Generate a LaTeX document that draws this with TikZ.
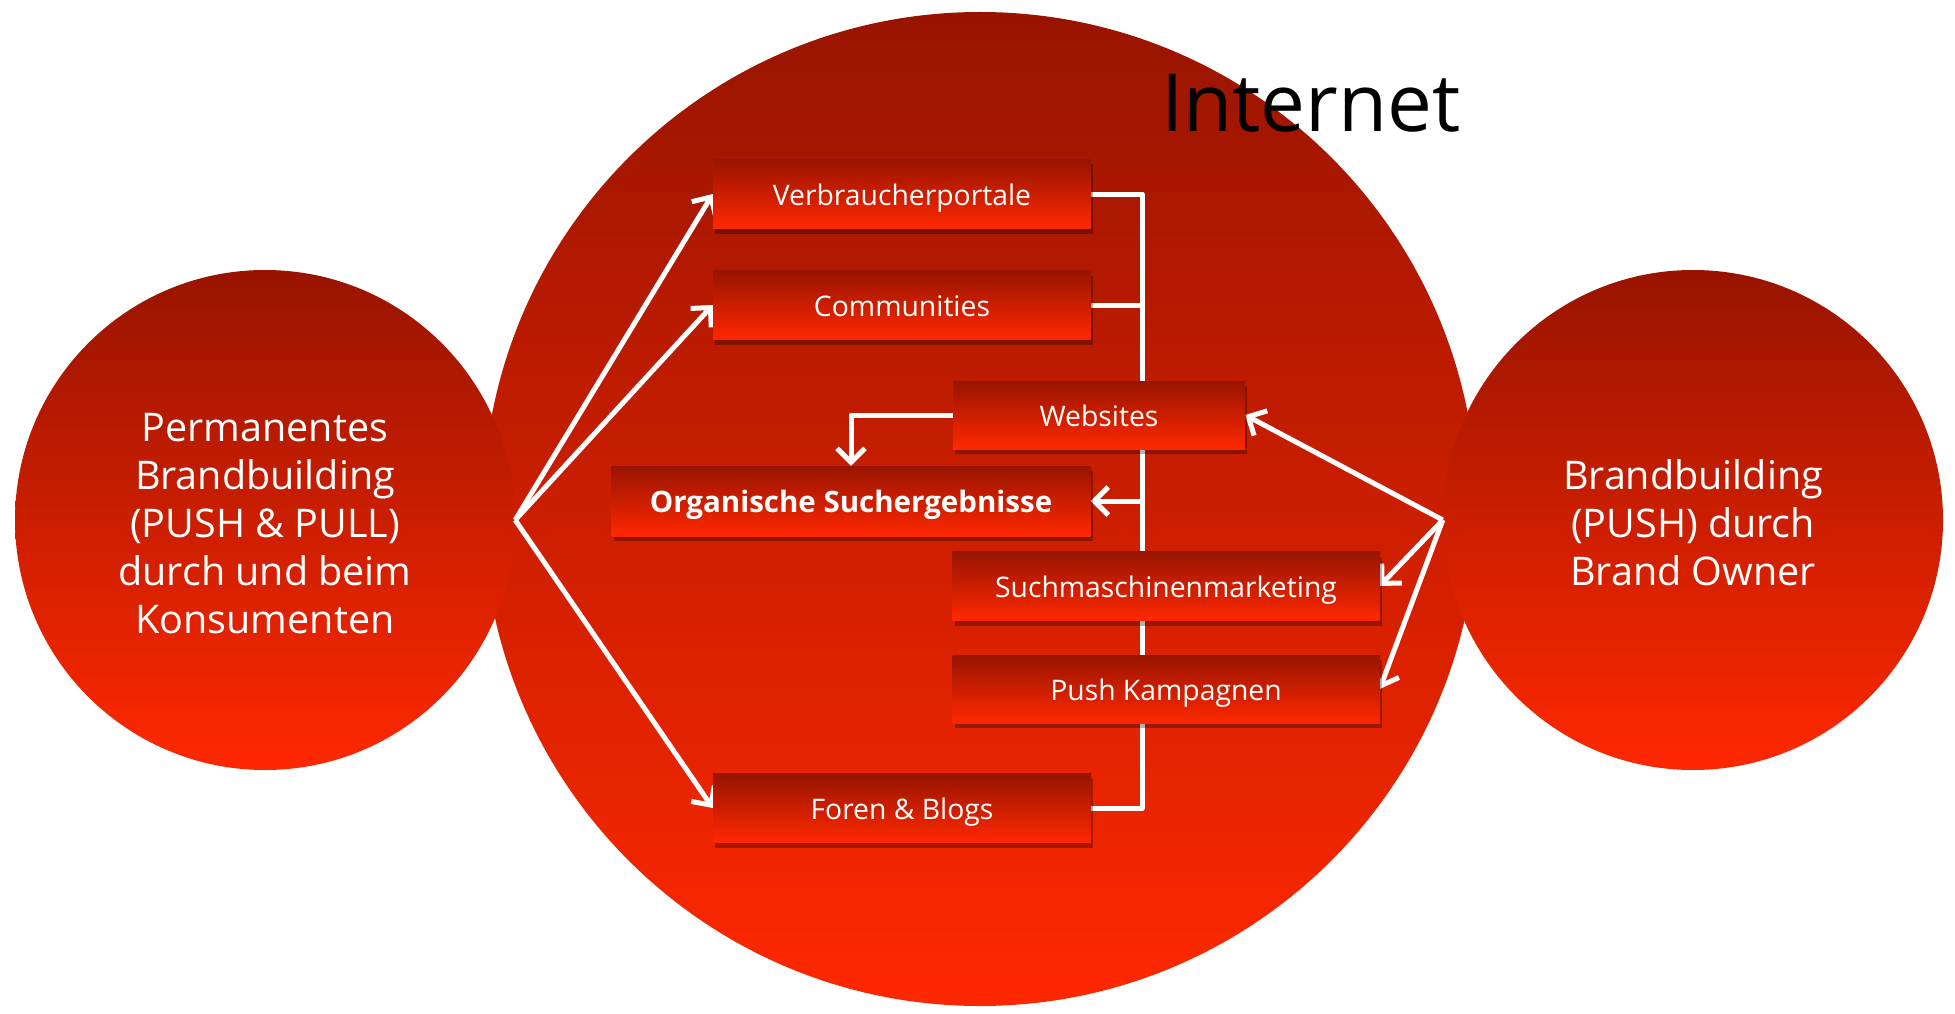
\documentclass[tikz,border=0pt]{standalone}
\usepackage{fontspec}
\setmainfont{Open Sans}
\usetikzlibrary{arrows.meta,shadows}
\pgfdeclarelayer{bg}
\pgfdeclarelayer{mid}
\pgfsetlayers{bg,mid,main}
\definecolor{rdark}{RGB}{152,20,0}
\definecolor{rbright}{RGB}{255,40,0}
\begin{document}
\begin{tikzpicture}[x=1pt,y=-1pt,
  redcirc/.style={circle, inner sep=0pt, draw=none, top color=rdark, bottom color=rbright},
  ctext/.style={text=white, align=center, inner sep=0pt, font=\fontsize{39.5}{48}\selectfont},
  box/.style={rectangle, inner sep=0pt, draw=none, top color=rdark, bottom color=rbright,
    text=white, font=\fontsize{28.3}{33}\selectfont, text height=22pt, text depth=0pt,
    drop shadow={shadow xshift=2pt, shadow yshift=-5pt, fill=black, opacity=0.3}},
  conn/.style={draw=white, line width=5pt, line join=round},
  arr/.style={conn, -{Straight Barb[length=14pt,width=28pt]}}
]
\useasboundingbox (0,0) rectangle (1955,1014);

\begin{pgfonlayer}{bg}
\node[redcirc, minimum size=994pt] (big) at (980,509) {};
\node[redcirc, minimum size=500pt] (L) at (265,520) {};
\node[redcirc, minimum size=500pt] (R) at (1693,520) {};
\node[ctext] (Lt) at (265,524) {Permanentes\\Brandbuilding\\(PUSH \& PULL)\\durch und beim\\Konsumenten};
\node[ctext] (Rt) at (1693,523) {Brandbuilding\\(PUSH) durch\\Brand Owner};
\end{pgfonlayer}

\node[anchor=base west, inner sep=0pt, text=black, font=\fontsize{80}{96}\selectfont] (inet) at (1161,132) {Internet};

\node[box, minimum width=378pt, minimum height=69pt] (vp) at (902,194) {Verbraucherportale};
\node[box, minimum width=378pt, minimum height=69pt] (cm) at (902,305) {Communities};
\node[box, minimum width=292pt, minimum height=68pt] (ws) at (1099,415) {Websites};
\node[box, minimum width=479pt, minimum height=70pt, font=\fontsize{29.5}{34}\selectfont\bfseries] (og) at (851,501) {Organische Suchergebnisse};
\node[box, minimum width=427pt, minimum height=69pt] (sm) at (1166,586) {Suchmaschinenmarketing};
\node[box, minimum width=427pt, minimum height=68pt] (pk) at (1166,689) {Push Kampagnen};
\node[box, minimum width=378pt, minimum height=69pt] (fb) at (902,808) {Foren \& Blogs};

\begin{pgfonlayer}{mid}
\coordinate (bx) at (1142,0);
\draw[conn] (vp.east) -- (vp.east -| bx) -- (fb.east -| bx) -- (fb.east);
\draw[conn] (cm.east) -- (cm.east -| bx);
\draw[arr] (og.east -| bx) -- (og.east);
\draw[arr] (ws.west) -| (og.north);
\draw[arr] (L.east) -- (vp.west);
\draw[arr] (L.east) -- (cm.west);
\draw[arr] (L.east) -- (fb.west);
\draw[arr] (R.west) -- (ws.east);
\draw[arr] (R.west) -- (sm.east);
\draw[arr] (R.west) -- (pk.east);
\end{pgfonlayer}
\end{tikzpicture}
\end{document}
